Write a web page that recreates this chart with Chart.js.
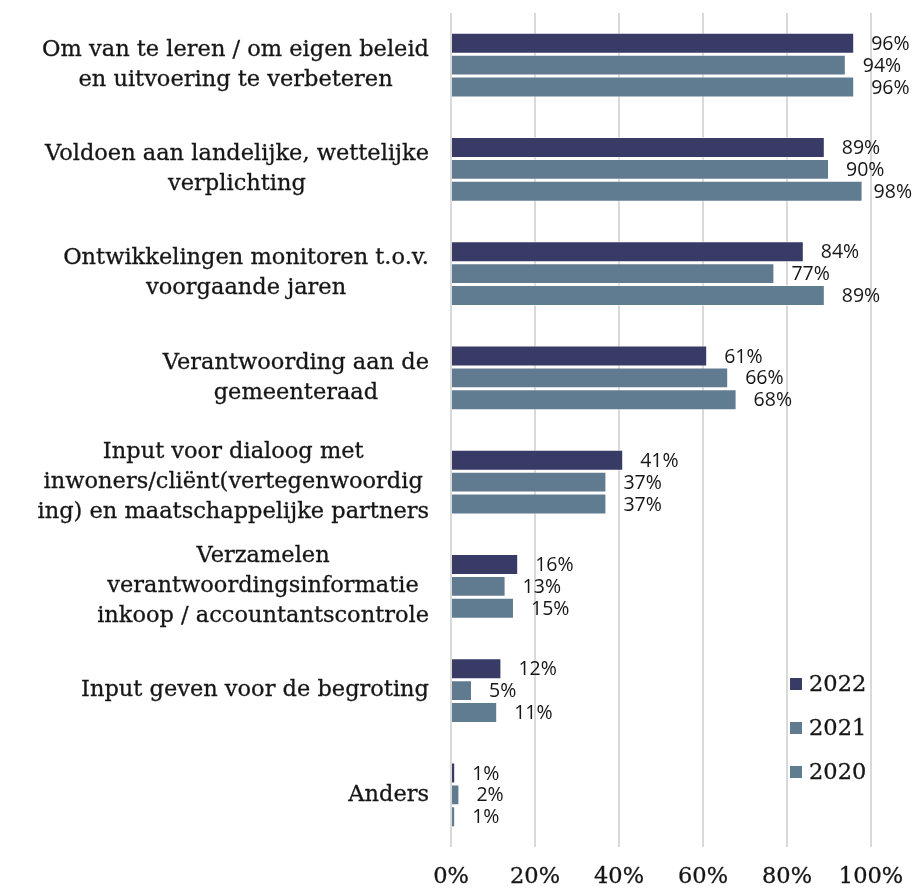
<!DOCTYPE html>
<html>
<head>
<meta charset="utf-8">
<script src="https://cdn.jsdelivr.net/npm/chart.js@4/dist/chart.umd.min.js"></script>
<style>
  html, body { margin: 0; padding: 0; background: #fff; }
  #wrap { width: 912px; height: 889px; }
</style>
</head>
<body>
<div id="wrap"><canvas id="chart" width="912" height="889"></canvas></div>
<script>
'use strict'

// categorieen (regels zoals in de figuur afgebroken)
const categories = [
  ['Om van te leren / om eigen beleid', 'en uitvoering te verbeteren'],
  ['Voldoen aan landelijke, wettelijke', 'verplichting'],
  ['Ontwikkelingen monitoren t.o.v.', 'voorgaande jaren'],
  ['Verantwoording aan de', 'gemeenteraad'],
  ['Input voor dialoog met', 'inwoners/cliënt(vertegenwoordig', 'ing) en maatschappelijke partners'],
  ['Verzamelen', 'verantwoordingsinformatie', 'inkoop / accountantscontrole'],
  ['Input geven voor de begroting'],
  ['Anders'],
];

const years = ['2022', '2021', '2020'];

const values2022 = [96, 89, 84, 61, 41, 16, 12, 1];
const values2021 = [94, 90, 77, 66, 37, 13, 5, 2];
const values2020 = [96, 98, 89, 68, 37, 15, 11, 1];

const xTicks = [0, 20, 40, 60, 80, 100];

const colors = ['#383b66', '#607b8f', '#5f7c90'];

const serif = '"DejaVu Serif", serif';
const textColor = '#161616';
const weight = 0.3; // dunne omlijning, serif oogt dan wat zwaarder

// labels links van de balken: blok rechts uitgelijnd, regels gecentreerd
const categoryLabels = {
  id: 'categoryLabels',
  afterDraw(chart) {
    const ctx = chart.ctx;
    const y = chart.scales.y;
    const right = chart.chartArea.left - 22;
    const lh = 30;
    ctx.save();
    ctx.font = '22.5px ' + serif;
    ctx.fillStyle = textColor;
    ctx.strokeStyle = textColor;
    ctx.lineWidth = weight;
    ctx.textAlign = 'center';
    ctx.textBaseline = 'middle';
    categories.forEach((lines, i) => {
      const cy = y.getPixelForValue(i);
      const maxW = Math.max(...lines.map(l => ctx.measureText(l).width));
      const cx = right - maxW / 2;
      const top = cy - (lines.length - 1) * lh / 2;
      lines.forEach((l, j) => {
        ctx.fillText(l, cx, top + j * lh);
        ctx.strokeText(l, cx, top + j * lh);
      });
    });
    ctx.restore();
  }
};

// percentages achter de balken
const valueLabels = {
  id: 'valueLabels',
  afterDatasetsDraw(chart) {
    const ctx = chart.ctx;
    ctx.save();
    ctx.font = '19.5px "Open Sans", sans-serif';
    ctx.fillStyle = textColor;
    ctx.textAlign = 'left';
    ctx.textBaseline = 'middle';
    chart.data.datasets.forEach((ds, d) => {
      chart.getDatasetMeta(d).data.forEach((bar, i) => {
        const txt = ds.data[i] + '%';
        const w = ctx.measureText(txt).width;
        const x = Math.min(bar.x + 17, chart.width - w);
        ctx.fillText(txt, x, bar.y + 1);
      });
    });
    ctx.restore();
  }
};

// legenda rechtsonder in het plotgebied
const sideLegend = {
  id: 'sideLegend',
  afterDraw(chart) {
    const ctx = chart.ctx;
    const area = chart.chartArea;
    const x = area.right - 81;
    const y0 = area.bottom - 163;
    ctx.save();
    ctx.font = '22.5px ' + serif;
    ctx.textBaseline = 'middle';
    ctx.textAlign = 'left';
    ctx.lineWidth = weight;
    chart.data.datasets.forEach((ds, d) => {
      const cy = y0 + d * 44;
      ctx.fillStyle = ds.backgroundColor;
      ctx.fillRect(x, cy - 6, 12, 12);
      ctx.fillStyle = textColor;
      ctx.strokeStyle = textColor;
      ctx.fillText(ds.label, x + 19, cy + 1);
      ctx.strokeText(ds.label, x + 19, cy + 1);
    });
    ctx.restore();
  }
};

const ctx = document.getElementById('chart').getContext('2d');
new Chart(ctx, {
  type: 'bar',
  data: {
    labels: categories,
    datasets: [values2022, values2021, values2020].map((vals, d) => ({
      label: years[d],
      data: vals,
      backgroundColor: colors[d],
      borderColor: 'rgba(255,255,255,0.5)',
      borderWidth: 1,
      categoryPercentage: 0.63,
      barPercentage: 0.95,
    })),
  },
  options: {
    indexAxis: 'y',
    responsive: false,
    animation: false,
    layout: { padding: { left: 451, right: 41, top: 13, bottom: 0 } },
    plugins: {
      legend: { display: false },
      tooltip: { enabled: false },
    },
    scales: {
      y: { display: false },
      x: {
        min: 0,
        max: 100,
        afterBuildTicks(scale) {
          scale.ticks = xTicks.map(v => ({ value: v }));
        },
        afterFit(scale) {
          scale.height = 42;
          scale.paddingLeft = 0;
          scale.paddingRight = 0;
        },
        grid: { color: '#d9d9d9', lineWidth: 2, drawTicks: false },
        border: { display: false },
        ticks: {
          padding: 17,
          color: textColor,
          textStrokeColor: textColor,
          textStrokeWidth: weight,
          font: { family: serif, size: 22.5 },
          callback: v => v + '%',
        },
      },
    },
  },
  plugins: [categoryLabels, valueLabels, sideLegend],
});
</script>
</body>
</html>
